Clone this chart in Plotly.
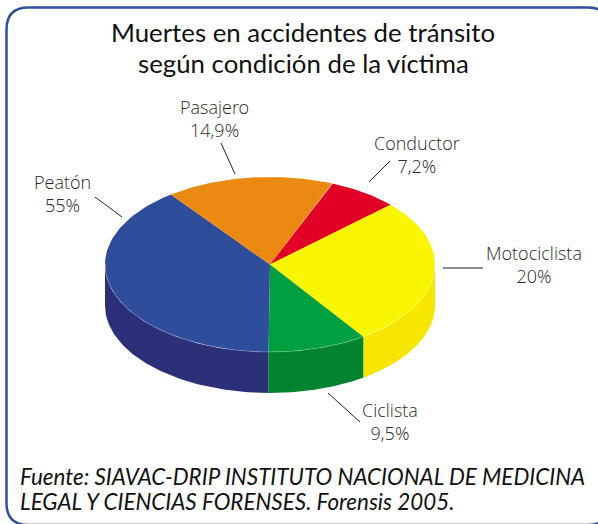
import numpy as np
import plotly.graph_objects as go

# Text printed on the reference
title_lines = ["Muertes en accidentes de tránsito", "según condición de la víctima"]
source_lines = ["Fuente: SIAVAC-DRIP INSTITUTO NACIONAL DE MEDICINA",
                "LEGAL Y CIENCIAS FORENSES. Forensis 2005."]
categories = ["Peatón", "Pasajero", "Conductor", "Motociclista", "Ciclista"]
printed_values = ["55%", "14,9%", "7,2%", "20%", "9,5%"]
# Slice sizes as drawn in the reference (percent of the disc;
# the drawing does not follow the printed values)
drawn_shares = [39.6, 16.4, 6.9, 27.4, 9.7]
top_colors = ["#2E4E9C", "#EA8A10", "#E20026", "#FAF500", "#00A040"]
side_colors = ["#2C3079", "#C97508", "#B00020", "#F7E600", "#00842F"]

CX, CY, RX, RY, DEPTH = 270.0, 264.5, 165.0, 87.5, 41.0
START = -90.5  # degrees, first slice runs clockwise from here


def arc(a0, a1, dy=0.0, n=90):
    t = np.radians(np.linspace(a0, a1, n))
    return CX + RX * np.cos(t), CY - RY * np.sin(t) + dy


fig = go.Figure()
edges = START - np.concatenate([[0], np.cumsum(drawn_shares)]) * 3.6

# side walls (only the front half of the disc shows)
for i in range(len(categories)):
    hi, lo = edges[i], edges[i + 1]
    for shift in (0, 360):
        a0 = min(hi + shift, 0) if hi + shift > -180 else None
        a1 = max(lo + shift, -180)
        if a0 is None or a0 <= a1:
            continue
        x1, y1 = arc(a0, a1)
        x2, y2 = arc(a1, a0, DEPTH)
        fig.add_trace(go.Scatter(x=np.r_[x1, x2], y=np.r_[y1, y2], mode="lines",
                                 fill="toself", fillcolor=side_colors[i],
                                 line=dict(width=0), hoverinfo="skip", showlegend=False))

# top face
for i in range(len(categories)):
    x1, y1 = arc(edges[i], edges[i + 1])
    fig.add_trace(go.Scatter(x=np.r_[CX, x1, CX], y=np.r_[CY, y1, CY], mode="lines",
                             fill="toself", fillcolor=top_colors[i],
                             line=dict(width=0), hoverinfo="skip", showlegend=False))

# faint light seam along the front rim of the top face
xs, ys = arc(0, -180)
fig.add_trace(go.Scatter(x=xs, y=ys, mode="lines", hoverinfo="skip", showlegend=False,
                         line=dict(color="rgba(255,255,255,0.35)", width=0.7)))

# label anchors (centre of text, px)
label_x = [62, 214, 417, 533.5, 390]
label_y = [193, 118, 154, 264, 421]
LABEL_FONT = dict(family="Open Sans Light, Open Sans", size=18, color="#2A2A2A")
annotations = [
    dict(x=x, y=y, text=f"{c}<br>{v}", showarrow=False, font=LABEL_FONT, align="center",
         xanchor="center", yanchor="middle")
    for c, v, x, y in zip(categories, printed_values, label_x, label_y)
]
for line, y in zip(title_lines, [31.5, 63]):
    annotations.append(dict(x=303, y=y, text=line, showarrow=False, xanchor="center", yanchor="middle",
                            font=dict(family="Lato", size=25.8, color="#111111")))
for line, y in zip(source_lines, [476, 501]):
    annotations.append(dict(x=18, y=y, text=f"<i>{line}</i>", showarrow=False, xanchor="left",
                            yanchor="middle", font=dict(family="Lato", size=22.4, color="#111111")))

# leader lines
leaders = [(95, 197, 122, 217), (221, 143, 235, 174), (369, 182, 390, 161),
           (443, 268, 483, 268), (328, 393, 360, 422)]
shapes = [dict(type="line", x0=a, y0=b, x1=c, y1=d, line=dict(color="#222222", width=1))
          for a, b, c, d in leaders]

# rounded frame (runs off the right and bottom of the picture)
L, T, R, B, C = 6.5, 7.5, 610, 525, 22
shapes.append(dict(type="path",
                   path=f"M {L+C} {T} L {R-C} {T} Q {R} {T} {R} {T+C} L {R} {B-C} Q {R} {B} {R-C} {B} "
                        f"L {L+C} {B} Q {L} {B} {L} {B-C} L {L} {T+C} Q {L} {T} {L+C} {T} Z",
                   line=dict(color="#2E5199", width=2.5)))

fig.update_layout(
    width=598, height=524, margin=dict(l=0, r=0, t=0, b=0),
    paper_bgcolor="white", plot_bgcolor="white", showlegend=False,
    xaxis=dict(range=[0, 598], visible=False, fixedrange=True),
    yaxis=dict(range=[524, 0], visible=False, fixedrange=True),
    annotations=annotations, shapes=shapes,
)
fig.write_html("out.html", config=dict(displayModeBar=False),
               post_script="document.body.style.margin='0';")
